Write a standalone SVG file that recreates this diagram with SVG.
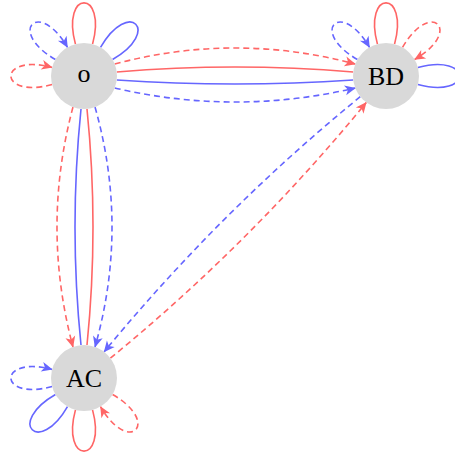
<svg xmlns="http://www.w3.org/2000/svg" width="455" height="452" viewBox="0 0 455 452">
<style>
  .node { fill: #d9d9d9; stroke: none; }
  .lbl { font-family: "Liberation Serif", "Times New Roman", serif; font-size: 26px; fill: #000; text-anchor: middle; }
  .e { fill: none; stroke-width: 1.6; }
  .r { stroke: #ff6666; }
  .b { stroke: #6666ff; }
  .d { stroke-dasharray: 6 4; }
  .ar { marker-end: url(#arrR); }
  .ab { marker-end: url(#arrB); }
</style>
<defs>
  <marker id="arrR" markerUnits="userSpaceOnUse" viewBox="-12 -6 13 12" refX="0" refY="0" markerWidth="13" markerHeight="12" orient="auto">
    <path d="M0.5,0 L-10.5,-5 L-7.5,0 L-10.5,5 Z" fill="#ff6666"/>
  </marker>
  <marker id="arrB" markerUnits="userSpaceOnUse" viewBox="-12 -6 13 12" refX="0" refY="0" markerWidth="13" markerHeight="12" orient="auto">
    <path d="M0.5,0 L-10.5,-5 L-7.5,0 L-10.5,5 Z" fill="#6666ff"/>
  </marker>
</defs>
<rect width="455" height="452" fill="#ffffff"/>
<g id="connectors">
  <!-- o loops -->
  <path class="e r" d="M75.45,44.12 C60.69,-10.93 107.31,-10.93 92.55,44.12"/>
  <path class="e b" d="M100.5,47.42 C129,-1.94 161.94,31 112.58,59.5"/>
  <path class="e b d ab" d="M55.42,59.5 C6.06,31 39,-1.94 67.5,47.42"/>
  <path class="e r d ar" d="M52.12,84.55 C-2.93,99.31 -2.93,52.69 52.12,67.45"/>
  <!-- BD loops -->
  <path class="e r" d="M377.45,44.12 C362.69,-10.93 409.31,-10.93 394.55,44.12"/>
  <path class="e b d ab" d="M357.42,59.5 C308.06,31 341,-1.94 369.5,47.42"/>
  <path class="e r d ar" d="M402.5,47.42 C431,-1.94 463.94,31 414.58,59.5"/>
  <path class="e b" d="M417.88,67.45 C472.93,52.69 472.93,99.31 417.88,84.55"/>
  <!-- AC loops -->
  <path class="e b d ab" d="M52.12,386.55 C-2.93,401.31 -2.93,354.69 52.12,369.45"/>
  <path class="e b" d="M67.5,406.58 C39,455.94 6.06,423 55.42,394.5"/>
  <path class="e r" d="M92.55,409.88 C107.31,464.93 60.69,464.93 75.45,409.88"/>
  <path class="e r d ar" d="M112.58,394.5 C161.94,423 129,455.94 100.5,406.58"/>
  <!-- o - BD -->
  <path class="e r d ar" d="M114.7,64 Q235,32 355.3,64"/>
  <path class="e r" d="M116.8,72 Q235,62 353.2,72"/>
  <path class="e b" d="M116.8,80 Q235,88 353.2,80"/>
  <path class="e b d ab" d="M114.7,88 Q235,116 355.3,88"/>
  <!-- o - AC -->
  <path class="e r d ar" d="M73,107 Q41,227 73,347"/>
  <path class="e b" d="M81,109 Q69,227 81,345"/>
  <path class="e r" d="M87,109 Q99,227 87,345"/>
  <path class="e b d ab" d="M95,107 Q129,227 95,347"/>
  <!-- BD - AC -->
  <path class="e b d ab" d="M360.3,96.7 Q221,210 104.1,351.8"/>
  <path class="e r d ar" d="M110.4,358.2 Q251,243 366.3,102.5"/>
</g>
<g id="node-o">
  <circle class="node" cx="84" cy="76" r="33"/>
  <text class="lbl" x="84" y="82">o</text>
</g>
<g id="node-BD">
  <circle class="node" cx="386" cy="76" r="33"/>
  <text class="lbl" x="386" y="85">BD</text>
</g>
<g id="node-AC">
  <circle class="node" cx="84" cy="378" r="33"/>
  <text class="lbl" x="84" y="387">AC</text>
</g>
</svg>
